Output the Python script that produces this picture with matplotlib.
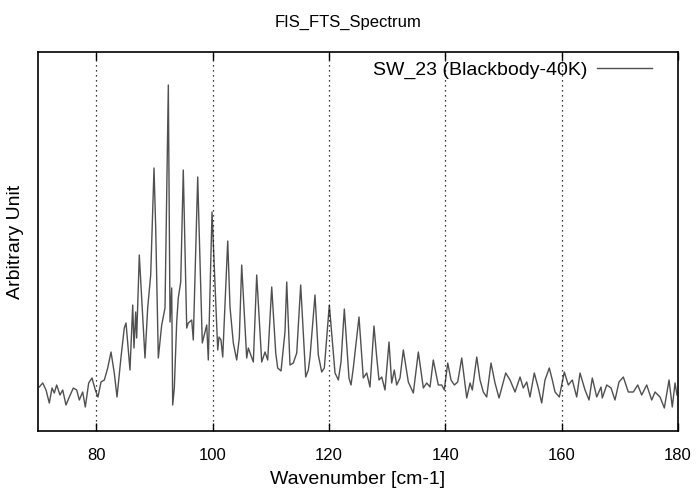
import matplotlib
matplotlib.use("Agg")
import matplotlib.pyplot as plt

plt.rcParams['font.family'] = ['Liberation Sans', 'DejaVu Sans']

wavenumber = [
    70.22, 70.81, 71.38, 71.94, 72.41, 72.80, 73.21, 73.78, 74.25, 74.81,
    75.38, 76.07, 76.65, 77.10, 77.68, 78.13, 78.71, 79.28, 79.85, 80.31,
    80.83, 81.40, 81.98, 82.55, 83.11, 83.58, 84.27, 84.83, 85.13, 85.81,
    86.28, 86.50, 86.79, 86.96, 87.41, 88.39, 88.85, 89.37, 89.94, 90.23,
    90.68, 90.97, 91.26, 91.83, 92.40, 92.69, 92.98, 93.15, 93.43, 93.84,
    94.11, 94.53, 94.97, 95.56, 95.83, 96.42, 96.69, 97.45, 97.67, 98.24,
    98.58, 99.00, 99.27, 99.91, 100.89, 101.11, 101.45, 101.75, 102.61, 103.00,
    103.57, 104.15, 104.60, 105.01, 105.87, 106.15, 107.01, 107.59, 108.45, 109.02,
    109.48, 110.17, 110.86, 111.20, 111.77, 112.45, 112.75, 113.31, 113.88, 114.47,
    115.15, 116.01, 116.46, 116.75, 117.61, 118.18, 118.76, 119.21, 120.07, 121.05,
    121.62, 122.08, 122.65, 123.45, 123.80, 124.19, 125.17, 125.91, 126.50, 127.06,
    127.75, 128.21, 128.61, 129.08, 129.64, 130.33, 130.79, 131.24, 131.65, 132.22,
    132.79, 133.65, 134.51, 135.37, 136.23, 136.81, 137.38, 137.94, 138.80, 139.39,
    139.83, 140.42, 140.99, 141.56, 142.14, 142.83, 143.69, 144.26, 144.65, 145.41,
    145.97, 146.54, 147.12, 147.86, 148.55, 149.24, 150.39, 151.13, 151.99, 152.85,
    153.41, 154.00, 154.56, 155.30, 155.99, 156.57, 157.14, 157.88, 158.40, 158.86,
    159.60, 160.46, 161.15, 161.83, 162.59, 163.16, 164.02, 164.71, 165.27, 166.03,
    166.77, 166.99, 167.75, 168.49, 169.17, 169.86, 170.60, 171.46, 172.32, 173.08,
    173.76, 174.62, 175.48, 176.05, 176.91, 177.65, 178.46, 179.02, 179.49, 179.83,
]

intensity = [
    44, 48, 41, 28, 43, 38, 46, 36, 41, 26,
    34, 43, 41, 31, 39, 24, 48, 53, 41, 34,
    49, 51, 63, 79, 58, 34, 74, 103, 108, 61,
    126, 83, 119, 93, 176, 73, 123, 156, 263, 203,
    73, 89, 106, 123, 346, 109, 143, 26, 43, 109,
    133, 149, 261, 103, 108, 111, 91, 254, 206, 88,
    96, 106, 71, 219, 81, 94, 91, 74, 190, 124,
    88, 71, 93, 166, 73, 83, 69, 156, 69, 79,
    71, 144, 78, 63, 60, 99, 149, 66, 68, 78,
    146, 54, 61, 74, 136, 76, 59, 63, 126, 58,
    51, 69, 122, 53, 46, 63, 114, 53, 58, 44,
    105, 74, 51, 54, 41, 89, 48, 61, 46, 53,
    81, 49, 38, 79, 43, 48, 44, 71, 46, 46,
    41, 68, 51, 46, 49, 73, 33, 48, 41, 74,
    51, 39, 34, 68, 48, 33, 58, 51, 39, 54,
    43, 49, 34, 58, 43, 28, 51, 63, 51, 39,
    34, 59, 46, 51, 34, 58, 41, 31, 53, 34,
    44, 33, 46, 43, 31, 49, 54, 39, 39, 46,
    36, 46, 31, 39, 34, 23, 51, 24, 48, 36,
]

xticks = [80, 100, 120, 140, 160, 180]
series_label = "SW_23 (Blackbody-40K)"

fig = plt.figure(figsize=(6.96, 4.91), dpi=100)
ax = fig.add_axes([38/696, 60/491, 640/696, 379/491])

ax.plot(wavenumber, intensity, color='#505050', lw=1.0, label=series_label)

ax.set_xlim(70, 180)
ax.set_ylim(0, 379)
ax.set_xticks(xticks)
ax.set_yticks([])
ax.tick_params(axis='x', direction='in', top=True, bottom=True, length=6,
               width=1, labelsize=12, pad=12)
for v in xticks[:-1]:
    ax.axvline(v, color='black', lw=0.9, ls=(0, (1, 3)))
for s in ax.spines.values():
    s.set_linewidth(1.2)

ax.set_xlabel("Wavenumber [cm-1]", fontsize=14, labelpad=6)
ax.set_ylabel("Arbitrary Unit", fontsize=14, labelpad=10)
fig.text(0.5, 1 - 22/491, "FIS_FTS_Spectrum", ha='center', va='center', fontsize=12)

leg = ax.legend(loc='upper right', frameon=False, markerfirst=False,
                fontsize=14, handlelength=2.83, borderaxespad=0, borderpad=0,
                handletextpad=0.46, bbox_to_anchor=(0.959, 0.975))

fig.savefig("out.png", dpi=100)
